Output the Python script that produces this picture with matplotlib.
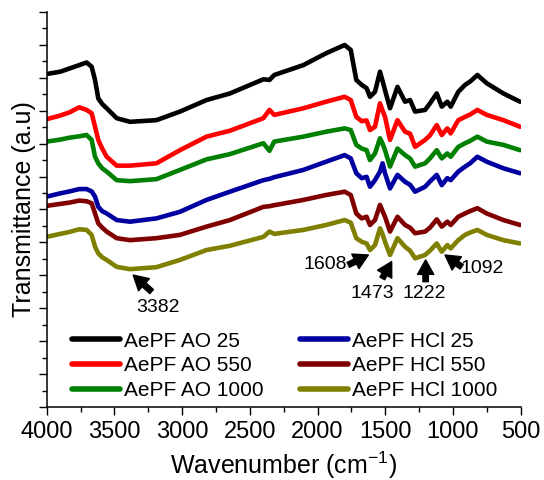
import numpy as np
from matplotlib import pyplot as plt
from matplotlib.ticker import MultipleLocator, NullFormatter

plt.rcParams['font.family'] = ['Liberation Sans', 'DejaVu Sans']
plt.rcParams['mathtext.default'] = 'regular'

# wavenumber grid (cm-1)
wave = [4000, 3900, 3830, 3760, 3705, 3668, 3643, 3619, 3590, 3557, 3483, 3385,
        3190, 3016, 2820, 2647, 2400, 2355, 2320, 2105, 1937, 1800, 1755, 1714,
        1674, 1638, 1613, 1576, 1539, 1520, 1502, 1465, 1410, 1354, 1317, 1280,
        1206, 1170, 1120, 1083, 1042, 1017, 961, 911, 874, 820, 751, 628, 505]

ao_25 = [10.11, 10.18, 10.28, 10.38, 10.46, 10.33, 9.93, 9.37, 9.20, 9.07, 8.77, 8.66,
         8.71, 8.97, 9.32, 9.52, 9.95, 9.93, 10.08, 10.38, 10.74, 10.99, 10.84, 9.93,
         9.78, 9.68, 9.42, 9.57, 10.18, 9.90, 9.62, 9.07, 9.72, 9.27, 9.32, 8.97,
         9.02, 9.22, 9.52, 9.12, 9.27, 9.12, 9.57, 9.78, 9.88, 10.08, 9.83, 9.52, 9.27]

ao_550 = [8.74, 8.85, 8.95, 9.10, 9.02, 8.92, 8.51, 8.11, 7.85, 7.60, 7.33, 7.33,
          7.40, 7.80, 8.21, 8.39, 8.77, 9.02, 8.87, 9.07, 9.27, 9.42, 9.32, 8.81,
          8.68, 8.70, 8.41, 8.51, 9.22, 9.00, 8.81, 8.11, 8.71, 8.36, 8.30, 7.90,
          8.11, 8.25, 8.56, 8.26, 8.46, 8.31, 8.71, 8.81, 8.88, 9.02, 8.87, 8.71, 8.51]

ao_1000 = [8.06, 8.12, 8.18, 8.22, 8.26, 8.11, 7.60, 7.40, 7.25, 7.15, 6.89, 6.86,
           6.92, 7.20, 7.52, 7.68, 8.01, 7.78, 8.06, 8.21, 8.36, 8.46, 8.41, 7.96,
           7.85, 7.80, 7.50, 7.70, 8.16, 8.00, 7.80, 7.30, 7.85, 7.65, 7.55, 7.30,
           7.40, 7.55, 7.80, 7.55, 7.70, 7.60, 7.90, 8.01, 8.08, 8.21, 8.06, 7.96, 7.80]

hcl_25 = [6.39, 6.49, 6.55, 6.62, 6.62, 6.55, 6.39, 6.08, 5.95, 5.88, 5.68, 5.63,
          5.73, 5.93, 6.29, 6.54, 6.89, 6.93, 6.98, 7.20, 7.45, 7.65, 7.55, 7.10,
          6.95, 6.99, 6.69, 6.89, 7.15, 7.40, 7.10, 6.64, 7.05, 6.84, 6.75, 6.54,
          6.69, 6.85, 7.05, 6.74, 6.95, 6.89, 7.15, 7.30, 7.40, 7.60, 7.45, 7.25, 7.10]

hcl_550 = [6.11, 6.17, 6.21, 6.27, 6.25, 6.19, 5.88, 5.58, 5.45, 5.33, 5.13, 5.07,
           5.13, 5.23, 5.48, 5.68, 6.08, 6.10, 6.13, 6.29, 6.44, 6.54, 6.44, 5.88,
           5.73, 5.78, 5.53, 5.68, 6.14, 5.95, 5.78, 5.33, 5.78, 5.53, 5.45, 5.28,
           5.33, 5.45, 5.70, 5.48, 5.63, 5.53, 5.78, 5.88, 5.95, 6.04, 5.88, 5.68, 5.53]

hcl_1000 = [5.17, 5.26, 5.32, 5.40, 5.38, 5.23, 4.87, 4.67, 4.55, 4.47, 4.26, 4.19,
            4.25, 4.47, 4.77, 4.90, 5.17, 5.33, 5.26, 5.38, 5.53, 5.68, 5.60, 5.13,
            5.02, 4.97, 4.77, 4.92, 5.43, 5.25, 5.02, 4.62, 5.13, 4.87, 4.75, 4.52,
            4.62, 4.75, 4.97, 4.72, 4.92, 4.82, 5.07, 5.23, 5.30, 5.38, 5.23, 5.07, 4.97]

labels = ['AePF AO 25', 'AePF AO 550', 'AePF AO 1000',
          'AePF HCl 25', 'AePF HCl 550', 'AePF HCl 1000']
colors = ['#000000', '#FF0000', '#008000', '#0000A0', '#800000', '#808000']
series = [ao_25, ao_550, ao_1000, hcl_25, hcl_550, hcl_1000]

# peak labels: text, text pos, arrow tail, arrow tip
peaks = [('3382', (3176, 3.02), (3225, 3.51), (3361, 4.01)),
         ('1608', (1945, 4.32), (1773, 4.32), (1625, 4.62)),
         ('1473', (1596, 3.46), (1522, 3.91), (1453, 4.42)),
         ('1222', (1212, 3.46), (1202, 3.81), (1202, 4.47)),
         ('1092', (788, 4.22), (936, 4.26), (1059, 4.62))]

fig = plt.figure(figsize=(5.44, 4.8), dpi=100)
ax = fig.add_axes([0.0858, 0.1515, 0.8714, 0.8241])

for y, c, lab in zip(series, colors, labels):
    ax.plot(wave, y, color=c, lw=3.3, label=lab, solid_joinstyle='round', solid_capstyle='round')

for txt, tpos, tail, tip in peaks:
    ax.annotate('', xy=tip, xytext=tail,
                arrowprops=dict(arrowstyle='simple,head_width=0.9,head_length=0.8,tail_width=0.3',
                                color='black', mutation_scale=13, shrinkA=0, shrinkB=0))
    ax.text(tpos[0], tpos[1], txt, fontsize=14, ha='center', va='center')

ax.set_xlim(4000, 500)
ax.set_ylim(0, 12)
ax.xaxis.set_major_locator(MultipleLocator(500))
ax.xaxis.set_minor_locator(MultipleLocator(250))
ax.yaxis.set_major_locator(MultipleLocator(1))
ax.yaxis.set_minor_locator(MultipleLocator(0.5))
ax.yaxis.set_major_formatter(NullFormatter())
ax.tick_params(axis='both', which='major', direction='out', length=6, width=1, labelsize=17, pad=4)
ax.tick_params(axis='both', which='minor', direction='out', length=3.5, width=1)
ax.spines['top'].set_visible(False)
ax.spines['right'].set_visible(False)
for s in ['left', 'bottom']:
    ax.spines[s].set_linewidth(1.1)

ax.set_xlabel('Wavenumber (cm$^{-1}$)', fontsize=18, va='baseline')
ax.xaxis.set_label_coords(0.5, -0.1694)
ax.set_ylabel('Transmittance (a.u)', fontsize=18, va='baseline')
ax.yaxis.set_label_coords(-0.034, 0.5)

leg = ax.legend(ncol=2, loc='upper left', bbox_to_anchor=(0.053, 0.191), frameon=False,
                fontsize=15, handlelength=2.3, handletextpad=0.2, columnspacing=1.75,
                labelspacing=0.27, borderpad=0, borderaxespad=0)
for line in leg.get_lines():
    line.set_linewidth(4)

plt.savefig('out.png', dpi=100)
